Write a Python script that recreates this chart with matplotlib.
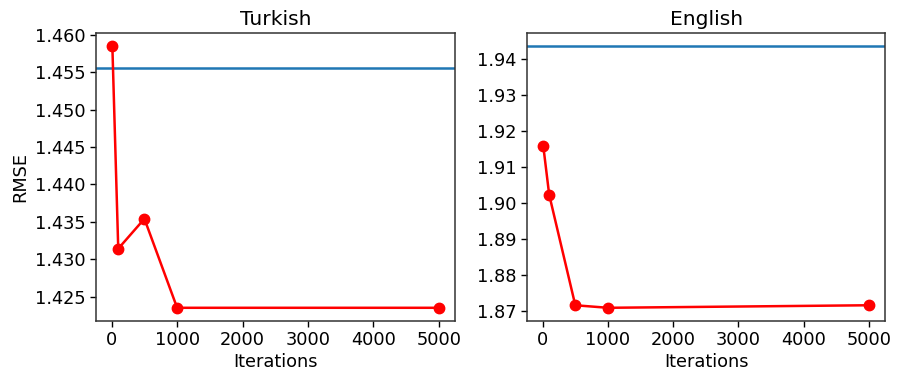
import matplotlib
matplotlib.use('Agg')
from matplotlib import pyplot as plt

iterations = [10, 100, 500, 1000, 5000]
rmse_turkish = [1.4585, 1.4314, 1.4354, 1.4235, 1.4235]
rmse_english = [1.9157, 1.9023, 1.8717, 1.8710, 1.8717]
baseline_turkish = 1.4555
baseline_english = 1.9435

fs = 12.8
fig = plt.figure(figsize=(9, 3.82), dpi=100)
ax1 = fig.add_axes([0.1067, 0.160, 0.399, 0.754])
ax2 = fig.add_axes([0.5856, 0.160, 0.398, 0.754])

for ax, vals, base, title in [(ax1, rmse_turkish, baseline_turkish, 'Turkish'),
                              (ax2, rmse_english, baseline_english, 'English')]:
    ax.axhline(base, color='C0', lw=1.8)
    ax.plot(iterations, vals, 'r-o', lw=1.8, ms=7.5)
    ax.set_title(title, fontsize=14.6, pad=6)
    ax.set_xlabel('Iterations', fontsize=fs, labelpad=3)
    ax.tick_params(labelsize=fs, length=4.5, width=1, pad=3)
    ax.set_xticks([0, 1000, 2000, 3000, 4000, 5000])
    for s in ax.spines.values():
        s.set_linewidth(1.1)
        s.set_color('#333333')

ax1.set_yticks([1.425, 1.430, 1.435, 1.440, 1.445, 1.450, 1.455, 1.460])
ax1.set_yticklabels([f'{v:.3f}' for v in ax1.get_yticks()])
ax1.set_ylabel('RMSE', fontsize=fs, labelpad=4)

fig.savefig('out.png')
